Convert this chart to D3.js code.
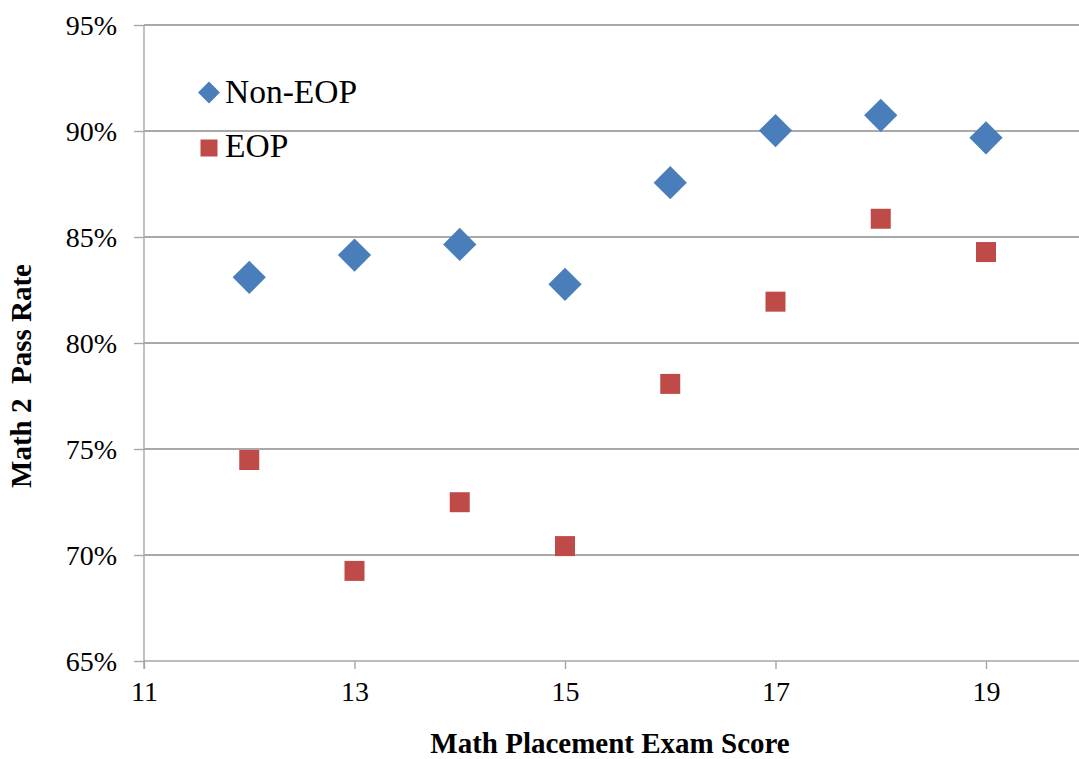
<!DOCTYPE html>
<html>
<head>
<meta charset="utf-8">
<script src="https://cdn.jsdelivr.net/npm/d3@7"></script>
<style>
  html, body { margin: 0; padding: 0; background: #fff; }
  svg { display: block; }
  text { font-family: "Liberation Serif", "Times New Roman", serif; fill: #000; }
</style>
</head>
<body>
<script>
// Placement exam scores on the x axis
const scores = [12, 13, 14, 15, 16, 17, 18, 19];
// Math 2 pass rates by group
const nonEopRates = [0.831, 0.8415, 0.8465, 0.8277, 0.8756, 0.9002, 0.9074, 0.8968];
const eopRates = [0.7448, 0.6925, 0.7249, 0.7042, 0.7807, 0.8195, 0.8586, 0.8429];
// Axis ticks
const xTicks = [11, 13, 15, 17, 19];
const yTicks = [0.65, 0.70, 0.75, 0.80, 0.85, 0.90, 0.95];
const seriesNames = ["Non-EOP", "EOP"];

const serif = '"Liberation Serif", "Times New Roman", serif';
const W = 1079, H = 759;
const svg = d3.select("body").append("svg").attr("width", W).attr("height", H)
  .attr("font-family", serif);

const plotLeft = 144, plotTop = 25, plotBottom = 661;
const unit = (986 - plotLeft) / 8;
const x = d3.scaleLinear().domain([11, 20]).range([plotLeft, plotLeft + 9 * unit]);
const y = d3.scaleLinear().domain([0.65, 0.95]).range([plotBottom, plotTop]);

// Horizontal gridlines
svg.append("g").selectAll("line").data(yTicks.filter(d => d > 0.65)).join("line")
  .attr("x1", plotLeft).attr("x2", W)
  .attr("y1", d => y(d)).attr("y2", d => y(d))
  .attr("stroke", "#8c8c8c").attr("stroke-width", 1.4);

// Y axis
const yAxis = svg.append("g").attr("transform", `translate(${plotLeft},0)`)
  .call(d3.axisLeft(y).tickValues(yTicks).tickFormat(d3.format(".0%")).tickSize(10).tickPadding(17))
  .attr("font-family", serif);
yAxis.select(".domain").attr("stroke", "#a6a6a6").attr("stroke-width", 1.4)
  .attr("d", `M0,${plotTop}V${plotBottom + 8}`);
yAxis.selectAll(".tick line").attr("stroke", "#a6a6a6").attr("stroke-width", 1.4);
yAxis.selectAll(".tick text").style("font-size", "28px").attr("dy", "0.33em");

// X axis
const xAxis = svg.append("g").attr("transform", `translate(0,${plotBottom})`)
  .call(d3.axisBottom(x).tickValues(xTicks).tickFormat(d3.format("d")).tickSize(8).tickPadding(12))
  .attr("font-family", serif);
xAxis.select(".domain").attr("stroke", "#a6a6a6").attr("stroke-width", 1.4)
  .attr("d", `M${plotLeft},0H${W}`);
xAxis.selectAll(".tick line").attr("stroke", "#a6a6a6").attr("stroke-width", 1.4);
xAxis.selectAll(".tick text").style("font-size", "28px");

const blue = "#4a7ebb", red = "#be4b48";
const diamond = d3.symbol().type(d3.symbolSquare).size(23.5 * 23.5);
const square = d3.symbol().type(d3.symbolSquare).size(20 * 20);

// Non-EOP markers (diamonds)
svg.append("g").selectAll("path").data(scores).join("path")
  .attr("d", diamond)
  .attr("transform", (d, i) => `translate(${x(d)},${y(nonEopRates[i])}) rotate(45)`)
  .attr("fill", blue);

// EOP markers (squares)
svg.append("g").selectAll("path").data(scores).join("path")
  .attr("d", square)
  .attr("transform", (d, i) => `translate(${x(d)},${y(eopRates[i])})`)
  .attr("fill", red);

// Legend
const legend = svg.append("g");
legend.append("path").attr("d", d3.symbol().type(d3.symbolSquare).size(15.5 * 15.5))
  .attr("transform", "translate(209,92.5) rotate(45)").attr("fill", blue);
legend.append("path").attr("d", d3.symbol().type(d3.symbolSquare).size(17 * 17))
  .attr("transform", "translate(209,148)").attr("fill", red);
legend.append("text").attr("x", 225).attr("y", 103).style("font-size", "33.5px").text(seriesNames[0]);
legend.append("text").attr("x", 225).attr("y", 157).style("font-size", "33.5px").text(seriesNames[1]);

// Axis titles
svg.append("text")
  .attr("transform", "translate(31,376) rotate(-90)")
  .attr("text-anchor", "middle")
  .style("font-size", "29px").style("font-weight", "bold").style("white-space", "pre")
  .text("Math 2  Pass Rate");
svg.append("text")
  .attr("x", 610).attr("y", 753)
  .attr("text-anchor", "middle")
  .style("font-size", "29px").style("font-weight", "bold")
  .text("Math Placement Exam Score");
</script>
</body>
</html>
